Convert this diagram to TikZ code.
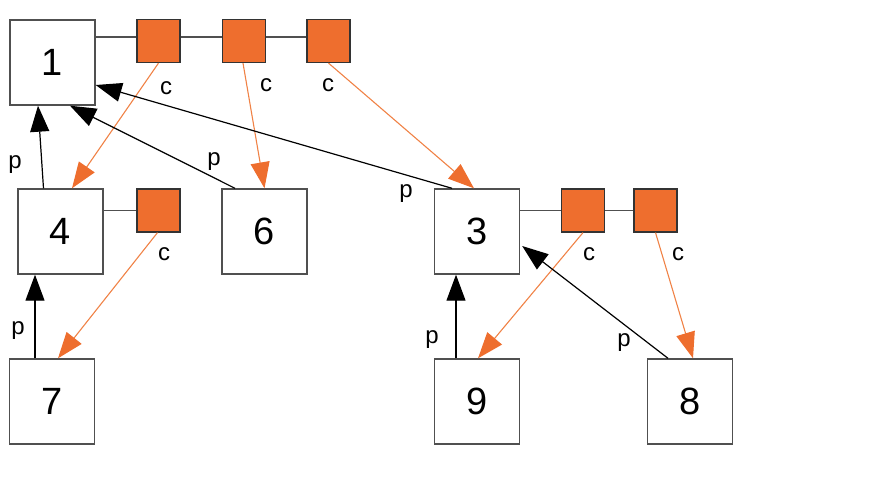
\documentclass[tikz,border=0pt]{standalone}
\usepackage{fontspec}
\setmainfont{Liberation Sans}
\usetikzlibrary{arrows.meta,calc}
\definecolor{orng}{RGB}{238,110,46}
\definecolor{orngline}{RGB}{240,130,70}
\definecolor{boxgray}{RGB}{80,80,80}
\begin{document}
\begin{tikzpicture}[x=1pt,y=-1pt,
  bigbox/.style={draw=boxgray,line width=1.4pt,fill=white,minimum size=85pt,inner sep=0pt,
    font=\fontsize{38}{44}\selectfont},
  sqbox/.style={draw=black!80,line width=1.2pt,fill=orng,minimum size=43pt,inner sep=0pt},
  chain/.style={draw=boxgray,line width=1.4pt},
  parr/.style={draw=black,line width=1.2pt,-{Triangle[length=26pt,width=19pt]}},
  carr/.style={draw=orngline,line width=1.1pt,-{Triangle[length=26pt,width=19pt,color=orng]}},
  lbl/.style={anchor=base,inner sep=0pt,font=\fontsize{24}{28}\selectfont}]
\useasboundingbox (0,0) rectangle (890,480);
% main nodes
\node[bigbox] (n1) at (52.5,62.5) {1};
\node[bigbox] (n4) at (60.5,231.5) {4};
\node[bigbox] (n6) at (264.5,231.5) {6};
\node[bigbox] (n3) at (477,231.5) {3};
\node[bigbox] (n7) at (52,401.5) {7};
\node[bigbox] (n9) at (477,401.5) {9};
\node[bigbox] (n8) at (690,401.5) {8};
% orange child squares
\node[sqbox] (o1a) at (158.5,41) {};
\node[sqbox] (o1b) at (244,41) {};
\node[sqbox] (o1c) at (328.5,41) {};
\node[sqbox] (o4) at (158.5,210.5) {};
\node[sqbox] (o3a) at (583,210.5) {};
\node[sqbox] (o3b) at (655.5,210.5) {};
% chain lines
\draw[chain] ($(n1.east)+(0,-25.5)$) -- ($(o1a.west)+(0,-4)$);
\draw[chain] ($(o1a.east)+(0,-4)$) -- ($(o1b.west)+(0,-4)$);
\draw[chain] ($(o1b.east)+(0,-4)$) -- ($(o1c.west)+(0,-4)$);
\draw[chain] ($(n4.east)+(0,-21)$) -- (o4.west);
\draw[chain] ($(n3.east)+(0,-21)$) -- (o3a.west);
\draw[chain] (o3a.east) -- (o3b.west);
% child arrows
\draw[carr] (o1a.south) -- ($(n4.north)+(11.5,0)$);
\draw[carr] ($(o1b.south)+(-1,0)$) -- (n6.north);
\draw[carr] (o1c.south) -- ($(n3.north)+(-3,0)$);
\draw[carr] ($(o4.south)+(-1,0)$) -- ($(n7.north)+(6,0)$);
\draw[carr] (o3a.south) -- ($(n9.north)+(1,0)$);
\draw[carr] (o3b.south) -- ($(n8.north)+(3,0)$);
% parent arrows
\draw[parr] ($(n4.north)+(-17,0)$) -- ($(n1.south)+(-14.5,0)$);
\draw[parr] ($(n6.north)+(-29.5,0)$) -- ($(n1.south)+(17.5,0)$);
\draw[parr] ($(n3.north)+(-25,0)$) -- ($(n1.east)+(0,22.5)$);
\draw[parr] ($(n7.north)+(-17,0)$) -- ($(n4.south)+(-25.5,0)$);
\draw[parr] ($(n9.north)+(-21,0)$) -- ($(n3.south)+(-21,0)$);
\draw[parr] ($(n8.north)+(-22,0)$) -- ($(n3.east)+(2,14.5)$);
% labels
\node[lbl] (lc1) at (166,94) {c};
\node[lbl] (lc2) at (266,91) {c};
\node[lbl] (lc3) at (328,91) {c};
\node[lbl] (lc4) at (164,260) {c};
\node[lbl] (lc5) at (589,260) {c};
\node[lbl] (lc6) at (678,260) {c};
\node[lbl] (lp1) at (15,168) {p};
\node[lbl] (lp2) at (214,165) {p};
\node[lbl] (lp3) at (406,197) {p};
\node[lbl] (lp4) at (18,334) {p};
\node[lbl] (lp5) at (432,343) {p};
\node[lbl] (lp6) at (624,346) {p};
\end{tikzpicture}
\end{document}
